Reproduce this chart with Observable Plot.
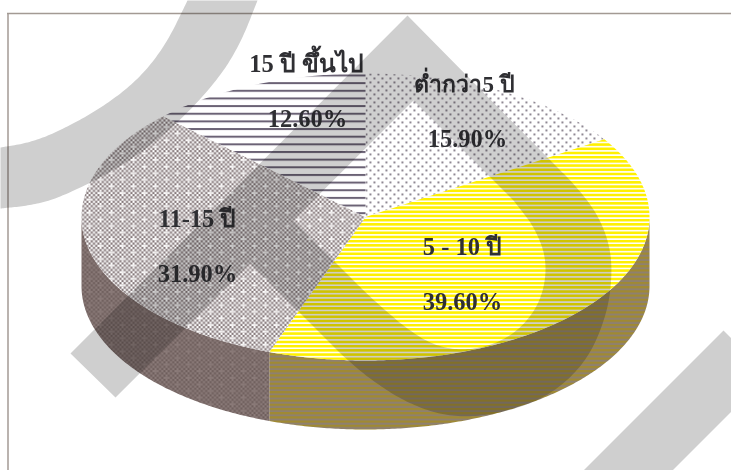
<!DOCTYPE html>
<html>
<head>
<meta charset="utf-8">
<script src="https://cdn.jsdelivr.net/npm/d3@7"></script>
<script src="https://cdn.jsdelivr.net/npm/@observablehq/plot@0.6"></script>
<style>
  html, body { margin: 0; padding: 0; background: #fff; }
  svg { display: block; }
</style>
</head>
<body>
<div id="chart"></div>
<script>
// Years-of-experience shares, clockwise from twelve o'clock
const categories = ["ต่ำกว่า5 ปี", "5 - 10 ปี", "11-15 ปี", "15 ปี ขึ้นไป"];
const shares = [15.9, 39.6, 31.9, 12.6];

// Label anchors, one per category: centre x, name baseline, percent baseline
const labelX = [464, 462, 197, 306];
const labelSize = [23, 24.5, 24.5, 24.5];
const nameBaseline = [92, 255, 227, 72];
const shareX = [467, 462, 197, 307];
const shareBaseline = [147, 310, 282, 127];

// Disc geometry in page units
const cx = 365, cy = 216.5, rx = 284, ry = 143.5, depth = 69;

// Diagonal background ribbons (page units)
const arcOuter = [[0,147],[30,142],[60,130],[100,108],[137,80],[165,45],[187,0]];
const arcInner = [[257,0],[240,43],[217,80],[173,127],[120,167],[60,197],[30,205],[0,208]];
const loopOuter = [[547,157],[575,185],[596,212],[608,240],[612,270],[607,313],[586,362],[547,397],[497,414],[450,417],[407,403],[367,377],[340,353]];
const loopInner = [[513,200],[535,228],[547,262],[541,300],[519,330],[487,347],[450,350],[417,337],[373,300],[340,267]];
const cornerBand = [[723,330],[731,338],[731,411],[672,470],[583,470]];

// Corner-cutting refinement so ribbon edges come out smooth, end points kept
function smooth(pts, rounds = 4) {
  let cur = pts;
  for (let r = 0; r < rounds; r++) {
    const next = [cur[0]];
    for (let i = 0; i < cur.length - 1; i++) {
      const [a, b] = [cur[i], cur[i + 1]];
      next.push([a[0] * .75 + b[0] * .25, a[1] * .75 + b[1] * .25]);
      next.push([a[0] * .25 + b[0] * .75, a[1] * .25 + b[1] * .75]);
    }
    next.push(cur[cur.length - 1]);
    cur = next;
  }
  return cur;
}
const arcRibbon = [...smooth(arcOuter), ...smooth(arcInner)];
const loopRibbon = [
  [70, 353], [407, 15],
  ...smooth(loopOuter),
  [250, 263], [293, 220],
  ...smooth(loopInner).reverse(),
  [413, 100], [115, 397]
];

// Convert shares to angular extents
const arcs = d3.pie().sort(null).startAngle(0).endAngle(2 * Math.PI)(shares);

const rimPoint = (a, drop = 0) => [cx + rx * Math.sin(a), cy - ry * Math.cos(a) + drop];
const sweep = (a0, a1) => {
  const n = Math.max(2, Math.ceil(Math.abs(a1 - a0) / 0.01));
  return d3.range(n + 1).map(i => a0 + (a1 - a0) * i / n);
};
const topOf = d => [[cx, cy], ...sweep(d.startAngle, d.endAngle).map(a => rimPoint(a))];
const sideOf = d => {
  const a0 = Math.max(d.startAngle, Math.PI / 2), a1 = Math.min(d.endAngle, 3 * Math.PI / 2);
  if (a1 <= a0) return null;
  return [...sweep(a0, a1).map(a => rimPoint(a)), ...sweep(a1, a0).map(a => rimPoint(a, depth))];
};

const topFills = ["url(#sparse)", "url(#yellowLines)", "url(#checker)", "url(#lines)"];
const sideFills = [null, "url(#yellowSide)", "url(#checkerSide)", null];

const ptX = p => p[0], ptY = p => p[1];
const poly = (pts, opts) => Plot.line(pts, {x: ptX, y: ptY, stroke: "none", ...opts});
const textStyle = {
  fontFamily: "'Liberation Serif', 'Noto Sans', serif",
  fontWeight: "bold",
  fill: "#2f2f33",
  lineAnchor: "bottom"
};
const nameRows = categories.map((name, i) => ({name, x: labelX[i], y: nameBaseline[i], size: labelSize[i]}));
const shareRows = shares.map((v, i) => ({text: d3.format(".2f")(v) + "%", x: shareX[i], y: shareBaseline[i]}));

const chart = Plot.plot({
  width: 731,
  height: 470,
  margin: 0,
  x: {domain: [0, 731], range: [0, 731], axis: null},
  y: {domain: [0, 470], range: [0, 470], axis: null},
  style: {background: "#fff", overflow: "hidden"},
  marks: [
    Plot.ruleY([13], {x1: 7, x2: 731, stroke: "#a39a94", strokeWidth: 1.5}),
    Plot.ruleX([7.5], {y1: 13, y2: 470, stroke: "#a39a94", strokeWidth: 1.5}),
    ...arcs.filter(sideOf).map(d => poly(sideOf(d), {fill: sideFills[d.index]})),
    ...arcs.map(d => poly(topOf(d), {fill: topFills[d.index]})),
    Plot.text(nameRows, {x: "x", y: "y", text: "name", fontSize: "size", dy: -1, ...textStyle}),
    Plot.text(shareRows, {x: "x", y: "y", text: "text", fontSize: 24.5, dy: -1, ...textStyle}),
    poly(arcRibbon, {fill: "#cfcfcf", mixBlendMode: "multiply"}),
    poly(loopRibbon, {fill: "#cfcfcf", mixBlendMode: "multiply"}),
    poly(cornerBand, {fill: "#cfcfcf", mixBlendMode: "multiply"})
  ]
});

// Hatch fills for the disc
function checkerTile(id, bg, fg, spot) {
  const c = 2.2, nx = 10, ny = 12;
  let cellsPath = "";
  for (let i = 0; i < nx; i++) for (let j = 0; j < ny; j++) {
    if ((i + j) % 2 === 0) cellsPath += `M${i * c} ${j * c}h${c}v${c}h${-c}z`;
  }
  const s = [[0, 0], [5, 3], [0, 6], [5, 9]].map(([i, j]) => `<rect x="${i * c}" y="${j * c}" width="${c}" height="${c}" fill="${spot}"/>`).join("");
  return `<pattern id="${id}" patternUnits="userSpaceOnUse" width="${c * nx}" height="${c * ny}">
    <rect width="${c * nx}" height="${c * ny}" fill="${bg}"/><path d="${cellsPath}" fill="${fg}"/>${s}</pattern>`;
}
function lineTile(id, period, bar, bg, fg, shift = 0) {
  return `<pattern id="${id}" patternUnits="userSpaceOnUse" width="8" height="${period}" patternTransform="translate(0 ${shift})">
    <rect width="8" height="${period}" fill="${bg}"/><rect width="8" height="${bar}" fill="${fg}"/></pattern>`;
}
const defs = d3.select(chart).insert("defs", ":first-child");
defs.html(
  lineTile("lines", 7.65, 2, "#fff", "#6b6275", 5.15) +
  lineTile("yellowLines", 4.2, 2.6, "#fff", "#fff000") +
  lineTile("yellowSide", 4.2, 2.2, "#8e8070", "#a08a32") +
  checkerTile("checker", "#fff", "#85787a", "#ece9e9") +
  checkerTile("checkerSide", "#8c7c7a", "#6e5e5c", "#887876") +
  `<pattern id="sparse" patternUnits="userSpaceOnUse" width="8" height="8">
     <rect width="8" height="8" fill="#fff"/>
     <rect x="1" y="1" width="1.8" height="1.8" fill="#756c7a"/>
     <rect x="5" y="5" width="1.8" height="1.8" fill="#756c7a"/>
   </pattern>`
);

document.getElementById("chart").appendChild(chart);
</script>
</body>
</html>
